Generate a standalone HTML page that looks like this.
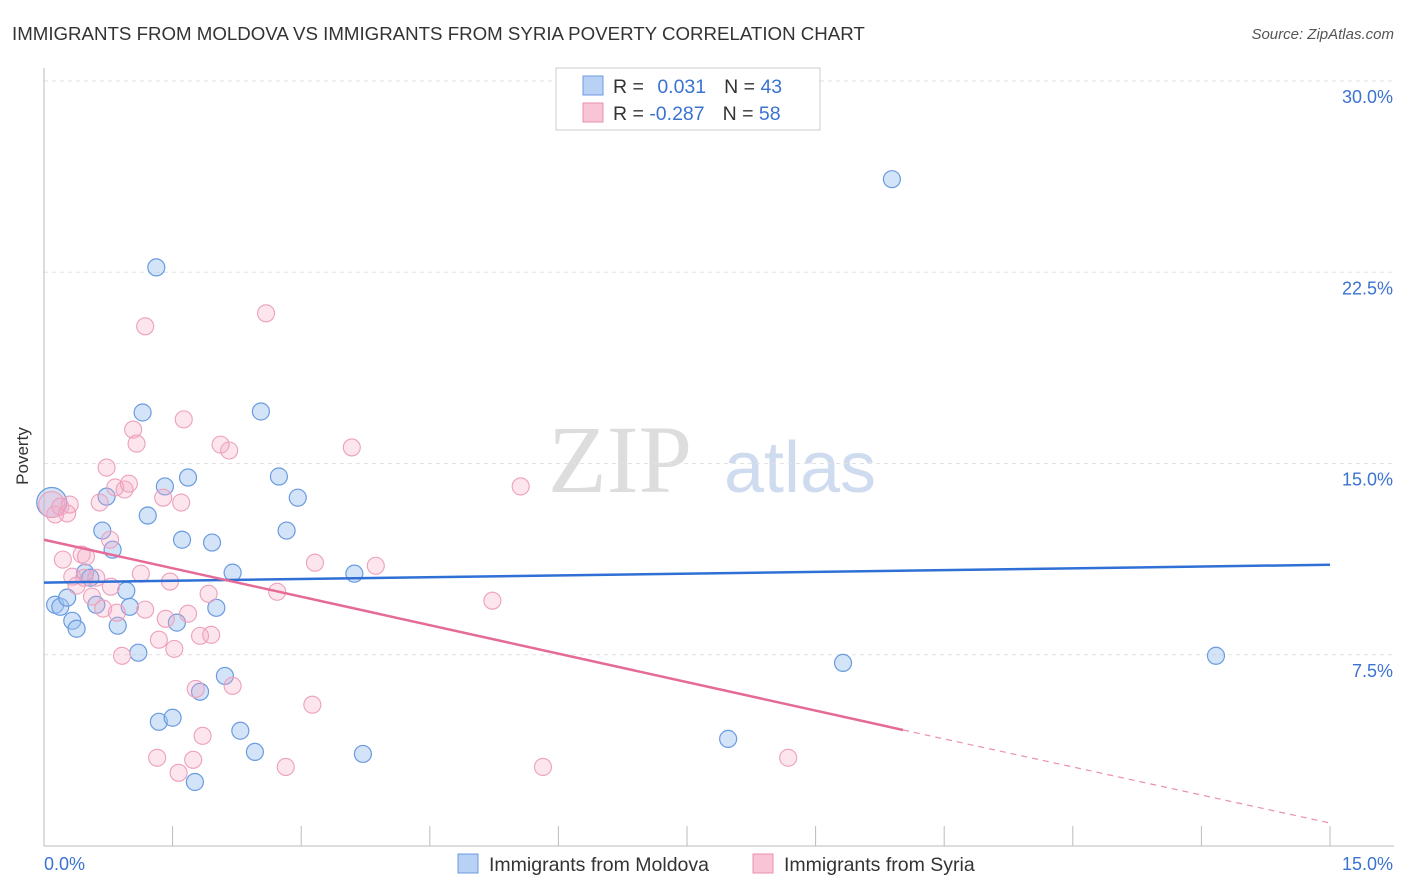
<!DOCTYPE html>
<html><head><meta charset="utf-8"><style>
body{margin:0;background:#fff;font-family:"Liberation Sans",sans-serif;}
svg{display:block}
</style></head><body>
<svg id="c" width="1406" height="892">
<text x="12" y="40" font-size="18.7" fill="#333">IMMIGRANTS FROM MOLDOVA VS IMMIGRANTS FROM SYRIA POVERTY CORRELATION CHART</text>
<text x="1394" y="39" font-size="15" fill="#555" font-style="italic" text-anchor="end">Source: ZipAtlas.com</text>
<text x="620" y="492" font-size="96" fill="#ddd" font-family="Liberation Serif" text-anchor="middle">ZIP</text>
<text x="800" y="492" font-size="72" fill="#cfdcf0" text-anchor="middle">atlas</text>
<g id="grid"></g>
<line x1="44" y1="68" x2="44" y2="846" stroke="#bbb"/>
<line x1="44" y1="846" x2="1394" y2="846" stroke="#bbb"/>
<text x="28" y="456" font-size="17" fill="#333" transform="rotate(-90 28 456)" text-anchor="middle">Poverty</text>
<text x="44" y="870" font-size="18" fill="#3b73d1">0.0%</text>
<text x="1393" y="870" font-size="18" fill="#3b73d1" text-anchor="end">15.0%</text>
<g id="pts"></g>
<g id="lines"></g>
<g>
<rect x="556" y="68" width="264" height="62" fill="#fff" stroke="#ccc"/>
<rect x="583" y="76" width="20" height="19" fill="#b9d1f5" stroke="#6a9be0"/>
<rect x="583" y="103" width="20" height="19" fill="#f9c5d6" stroke="#e890b0"/>
<text x="613" y="93" font-size="19.5" fill="#333">R = <tspan fill="#3b73d1" dx="8">0.031</tspan><tspan dx="18" fill="#333">N = </tspan><tspan fill="#3b73d1">43</tspan></text>
<text x="613" y="120" font-size="19.5" fill="#333">R = <tspan fill="#3b73d1">-0.287</tspan><tspan dx="18" fill="#333">N = </tspan><tspan fill="#3b73d1">58</tspan></text>
</g>
<g>
<rect x="458" y="854" width="20" height="19" fill="#b9d1f5" stroke="#6a9be0"/>
<text x="489" y="871" font-size="19.5" fill="#333">Immigrants from Moldova</text>
<rect x="753" y="854" width="20" height="19" fill="#f9c5d6" stroke="#e890b0"/>
<text x="784" y="871" font-size="19.5" fill="#333">Immigrants from Syria</text>
</g>
</svg>
<script>
const yTicks=[7.5,15,22.5,30];
const yTickLabels=["7.5%","15.0%","22.5%","30.0%"];
const xTicks=[0,1.5,3,4.5,6,7.5,9,10.5,12,13.5,15];
const moldovaX=[0.09,0.13,0.19,0.27,0.33,0.38,0.48,0.54,0.61,0.68,0.73,0.80,0.86,0.96,1.00,1.10,1.15,1.21,1.31,1.34,1.41,1.50,1.55,1.61,1.68,1.76,1.82,1.96,2.01,2.11,2.20,2.29,2.46,2.53,2.74,2.83,2.96,3.62,3.72,7.98,9.32,9.89,13.67];
const moldovaY=[13.47,9.46,9.38,9.74,8.83,8.52,10.72,10.52,9.46,12.37,13.70,11.62,8.64,10.01,9.38,7.58,17.0,12.96,22.69,4.87,14.10,5.03,8.76,12.01,14.45,2.51,6.05,11.90,9.34,6.67,10.72,4.52,3.69,17.04,14.49,12.37,13.66,10.68,3.61,4.20,7.18,26.15,7.46];
const syriaX=[0.09,0.13,0.19,0.22,0.27,0.30,0.33,0.38,0.44,0.47,0.49,0.56,0.61,0.65,0.69,0.73,0.77,0.78,0.83,0.85,0.91,0.94,0.99,1.04,1.08,1.13,1.18,1.18,1.32,1.34,1.39,1.42,1.47,1.52,1.57,1.60,1.63,1.68,1.74,1.77,1.82,1.85,1.92,1.95,2.06,2.16,2.20,2.59,2.72,2.82,3.13,3.16,3.59,3.87,5.23,5.56,5.82,8.68];
const syriaY=[13.39,13.0,13.31,11.23,13.04,13.39,10.56,10.21,11.43,10.52,11.35,9.78,10.52,13.47,9.31,14.84,12.01,10.17,14.06,9.15,7.46,13.98,14.21,16.33,15.78,10.68,20.38,9.27,3.46,8.09,13.66,8.91,10.37,7.73,2.87,13.47,16.73,9.11,3.38,6.16,8.24,4.32,9.89,8.28,15.74,15.51,6.28,20.89,9.97,3.10,5.54,11.11,15.63,10.99,9.62,14.10,3.10,3.46];
const moldovaTrend=[[0,10.33],[15,11.03]];
const syriaTrend=[[0,12.01],[10.02,4.55]];
const syriaTrendDash=[[10.02,4.55],[15,0.9]];
const X=v=>44+v/15*1286, Y=v=>846-v/30*765;
const NS="http://www.w3.org/2000/svg";
function mk(t,a,p){const e=document.createElementNS(NS,t);for(const k in a)e.setAttribute(k,a[k]);p.appendChild(e);return e;}
const grid=document.getElementById('grid');
yTicks.forEach((t,i)=>{
 const l=mk('line',{x1:44,x2:1394,y1:Y(t),y2:Y(t),stroke:'#e2e2e2','stroke-dasharray':'4,4'},grid);
 
 
 const tx=mk('text',{x:1393,y:Y(t)+22,'font-size':18,fill:'#3b73d1','text-anchor':'end'},grid);
 tx.textContent=yTickLabels[i];
 
 
});
xTicks.forEach(t=>{
 const l=mk('line',{x1:X(t),x2:X(t),y1:826,y2:846,stroke:'#bbb'},grid);
 
 
});
const pts=document.getElementById('pts');
moldovaX.forEach((x,i)=>{
 const c=mk('circle',{cx:X(x),cy:Y(moldovaY[i]),r:i==0?15:8.5,fill:'rgba(160,195,240,0.45)',stroke:'#6a9be0','stroke-width':1.2},pts);
 
 
});
syriaX.forEach((x,i)=>{
 const c=mk('circle',{cx:X(x),cy:Y(syriaY[i]),r:i==0?13:8.5,fill:'rgba(245,170,195,0.3)',stroke:'#eda0bc','stroke-width':1.1},pts);
 
 
});
const lines=document.getElementById('lines');
let l=mk('line',{x1:X(moldovaTrend[0][0]),y1:Y(moldovaTrend[0][1]),x2:X(moldovaTrend[1][0]),y2:Y(moldovaTrend[1][1]),stroke:'#2f6fd6','stroke-width':2.5},lines);


l=mk('line',{x1:X(syriaTrend[0][0]),y1:Y(syriaTrend[0][1]),x2:X(syriaTrend[1][0]),y2:Y(syriaTrend[1][1]),stroke:'#e56a97','stroke-width':2.5},lines);


l=mk('line',{x1:X(syriaTrendDash[0][0]),y1:Y(syriaTrendDash[0][1]),x2:X(syriaTrendDash[1][0]),y2:Y(syriaTrendDash[1][1]),stroke:'#e890b0','stroke-width':1.2,'stroke-dasharray':'6,5'},lines);


</script>
</body></html>
